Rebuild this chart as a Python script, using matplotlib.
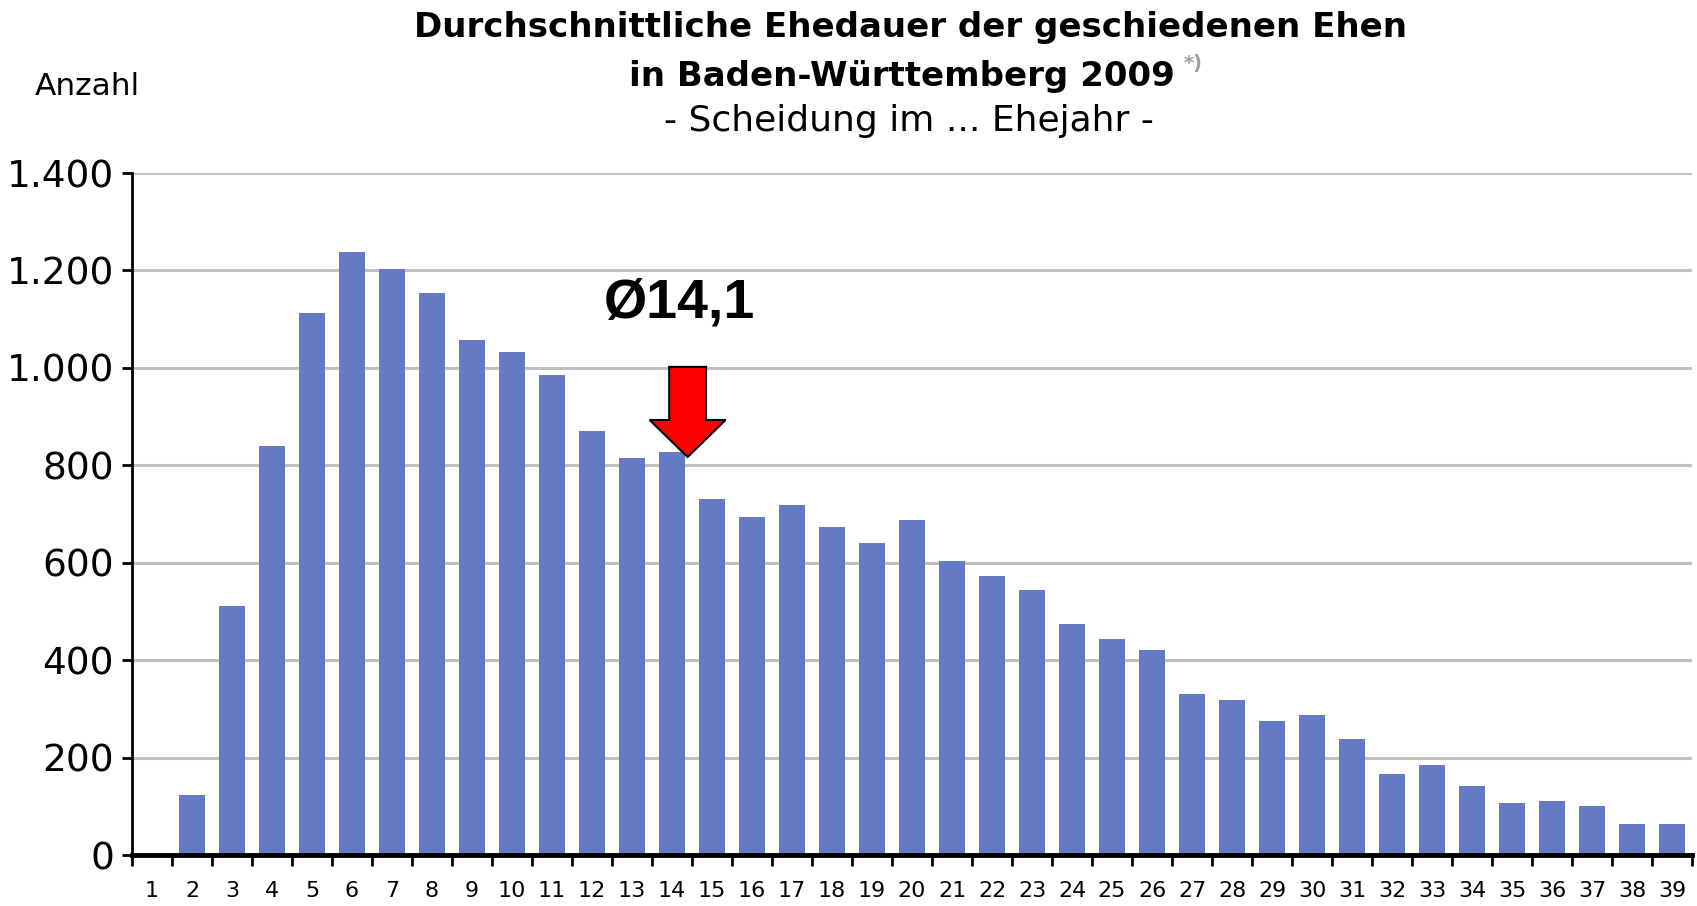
import matplotlib
matplotlib.use('Agg')
import matplotlib.pyplot as plt
from matplotlib.ticker import FuncFormatter, FixedLocator
import numpy as np

# Ehejahr 1..39 und Anzahl der Scheidungen
ehejahr = list(range(1, 40))
anzahl = [0, 123, 512, 839, 1113, 1238, 1203, 1153, 1057, 1032,
          985, 870, 814, 827, 730, 693, 718, 674, 640, 687,
          603, 572, 543, 475, 444, 421, 331, 318, 275, 288,
          238, 166, 185, 142, 107, 111, 100, 63, 63]
durchschnitt = 14.1
durchschnitt_text = 'Ø14,1'

titel1 = 'Durchschnittliche Ehedauer der geschiedenen Ehen'
titel2 = 'in Baden-Württemberg 2009'
titel3 = '- Scheidung im ... Ehejahr -'

bar_color = '#6679c5'
grid_color = '#c0c0c0'

fig = plt.figure(figsize=(16.97, 9.06), dpi=100)
ax = fig.add_axes([132/1697, 1 - 855/906, 1560/1697, (855 - 173)/906])

ax.bar(ehejahr, anzahl, width=0.66, color=bar_color, zorder=3)

ax.set_xlim(0.5, 39.5)
ax.set_ylim(0, 1400)
ax.set_yticks(np.arange(0, 1401, 200))
ax.yaxis.set_major_formatter(FuncFormatter(lambda v, p: f'{int(v):,}'.replace(',', '.')))
ax.grid(axis='y', color=grid_color, linewidth=2.2, zorder=0)

ax.set_xticks(ehejahr)
ax.set_xticklabels([str(e) for e in ehejahr])
ax.xaxis.set_minor_locator(FixedLocator(np.arange(0.5, 40, 1)))
ax.tick_params(axis='x', which='major', length=0, pad=19, labelsize=16)
ax.tick_params(axis='x', which='minor', length=8, width=2, direction='out')
ax.tick_params(axis='y', length=7, width=2, direction='out', labelsize=27, pad=6)

for s in ['top', 'right']:
    ax.spines[s].set_visible(False)
ax.spines['left'].set_linewidth(2)
ax.spines['bottom'].set_linewidth(3.5)
ax.spines['bottom'].set_zorder(5)

# Pfeil und Durchschnitt
ax.arrow(durchschnitt + 0.29, 1002, 0, -185, width=0.92, head_width=1.9,
         head_length=76, length_includes_head=True, fc='red', ec='black',
         lw=1.5, zorder=6)
ax.text(durchschnitt + 0.08, 1132, durchschnitt_text, ha='center', va='center',
        fontsize=40, fontweight='bold', family='Liberation Sans', zorder=6)

fig.text(910/1697, 0.970, titel1, ha='center', va='center', fontsize=24.5, fontweight='bold')
fig.text(902/1697, 0.916, titel2, ha='center', va='center', fontsize=24.5, fontweight='bold')
fig.text(1184/1697, 0.930, '*)', ha='left', va='center', fontsize=14, fontweight='bold', color='#a0a0a0')
fig.text(909/1697, 0.866, titel3, ha='center', va='center', fontsize=26)
fig.text(35/1697, 0.904, 'Anzahl', ha='left', va='center', fontsize=22.5)

fig.savefig('out.png', dpi=100)
